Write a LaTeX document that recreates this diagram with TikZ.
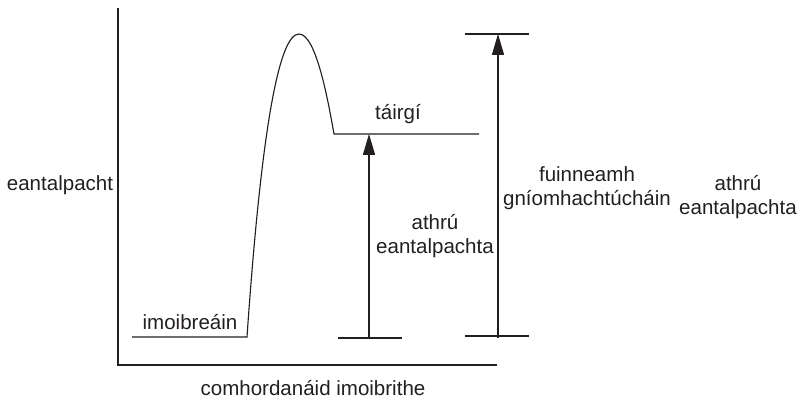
\documentclass[tikz,border=0pt]{standalone}
\usepackage{fontspec}
\setmainfont{Liberation Sans}
\definecolor{inkgray}{RGB}{35,31,32}
\usetikzlibrary{arrows.meta,positioning}

\begin{document}
\begin{tikzpicture}[x=0.025cm,y=-0.025cm,line width=0.8pt,draw=inkgray,
  lbl/.style={font=\fontsize{14.6}{17.4}\selectfont,text=inkgray,align=center,inner sep=0pt},
  enarrow/.style={-{Triangle[length=0.52cm,width=0.3cm]}}]
  \useasboundingbox (0,0) rectangle (798,405);
  % axes
  \coordinate (ytop) at (118,8);
  \coordinate (origin) at (118,365);
  \coordinate (xend) at (497,365);
  \draw (ytop) -- (origin) -- (xend);
  \node[lbl] (ylabel) at (60,185) {eantalpacht};
  \node[lbl] (xlabel) at (313,388) {comhordanáid imoibrithe};
  % energy profile
  \coordinate (r1) at (132,337);
  \coordinate (r2) at (247,337);
  \coordinate (ts) at (299,34);
  \coordinate (p1) at (334,134);
  \coordinate (p2) at (479,134);
  \draw (r1) -- (r2) .. controls (262,120) and (280,34) .. (ts)
    .. controls (316,34) and (328,100) .. (p1) -- (p2);
  \node[lbl] (reac) at (190,322) {imoibreáin};
  \node[lbl] (prod) at (398,114) {táirgí};
  % enthalpy change
  \coordinate (dhl) at (338,338);
  \coordinate (dhr) at (402,338);
  \coordinate (dhb) at (369,338);
  \coordinate (dht) at (369,134);
  \draw (dhl) -- (dhr);
  \draw[enarrow] (dhb) -- (dht);
  \node[lbl] (dh) at (435,236) {athrú\\eantalpachta};
  % activation energy
  \coordinate (eatl) at (465,34);
  \coordinate (eatr) at (529,34);
  \coordinate (eabl) at (465,336);
  \coordinate (eabr) at (529,336);
  \coordinate (eab) at (498,338);
  \coordinate (eat) at (498,34);
  \draw (eatl) -- (eatr);
  \draw (eabl) -- (eabr);
  \draw[enarrow] (eab) -- (eat);
  \node[lbl] (ea) at (587,188) {fuinneamh\\gníomhachtúcháin};
  \node[lbl] (dh2) at (738,197) {athrú\\eantalpachta};
\end{tikzpicture}
\end{document}
